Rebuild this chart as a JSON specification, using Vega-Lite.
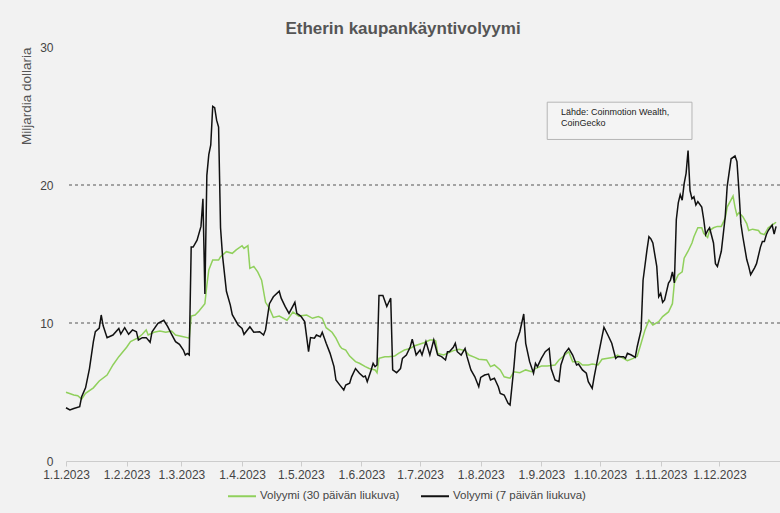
{
  "$schema": "https://vega.github.io/schema/vega-lite/v6.json",
  "autosize": "none",
  "width": 714,
  "height": 414,
  "padding": {"left": 66, "top": 47, "right": 0, "bottom": 52},
  "background": "#f2f2f2",
  "config": {
    "font": "Liberation Sans",
    "view": {"stroke": null},
    "axis": {"labelColor": "#444", "titleColor": "#555", "labelFontSize": 12}
  },
  "title": {
    "text": "Etherin kaupankäyntivolyymi",
    "fontSize": 17,
    "fontWeight": "bold",
    "color": "#555",
    "anchor": "middle",
    "dx": -20,
    "offset": 3
  },
  "datasets": {
    "k": [
      {"d":"2023-01-01","v":3.86},{"d":"2023-01-03","v":3.7},{"d":"2023-01-05","v":3.8},{"d":"2023-01-08","v":3.93},{"d":"2023-01-09","v":4.66},{"d":"2023-01-11","v":5.3},{"d":"2023-01-13","v":6.7},{"d":"2023-01-15","v":8.65},{"d":"2023-01-16","v":9.37},{"d":"2023-01-18","v":9.63},{"d":"2023-01-19","v":10.58},{"d":"2023-01-20","v":9.8},{"d":"2023-01-22","v":8.94},{"d":"2023-01-25","v":9.13},{"d":"2023-01-28","v":9.6},{"d":"2023-01-29","v":9.2},{"d":"2023-01-31","v":9.66},
      {"d":"2023-02-02","v":9.18},{"d":"2023-02-04","v":9.5},{"d":"2023-02-06","v":9.37},{"d":"2023-02-07","v":8.77},{"d":"2023-02-09","v":8.94},{"d":"2023-02-11","v":8.94},{"d":"2023-02-13","v":8.6},{"d":"2023-02-14","v":9.37},{"d":"2023-02-17","v":9.97},{"d":"2023-02-20","v":10.2},{"d":"2023-02-22","v":9.73},{"d":"2023-02-24","v":9.18},{"d":"2023-02-26","v":8.65},{"d":"2023-02-28","v":8.45},
      {"d":"2023-03-02","v":8.04},{"d":"2023-03-03","v":7.68},{"d":"2023-03-04","v":7.8},{"d":"2023-03-05","v":7.68},{"d":"2023-03-06","v":15.5},{"d":"2023-03-07","v":15.5},{"d":"2023-03-09","v":16.0},{"d":"2023-03-11","v":17.0},{"d":"2023-03-12","v":19.0},{"d":"2023-03-13","v":12.1},{"d":"2023-03-14","v":20.7},{"d":"2023-03-15","v":22.2},{"d":"2023-03-16","v":22.9},{"d":"2023-03-17","v":25.7},{"d":"2023-03-18","v":25.6},{"d":"2023-03-19","v":24.7},{"d":"2023-03-20","v":24.2},{"d":"2023-03-21","v":16.9},{"d":"2023-03-22","v":14.9},{"d":"2023-03-24","v":12.3},{"d":"2023-03-26","v":11.3},{"d":"2023-03-27","v":10.6},{"d":"2023-03-30","v":9.86},
      {"d":"2023-04-01","v":9.6},{"d":"2023-04-02","v":9.18},{"d":"2023-04-05","v":9.73},{"d":"2023-04-07","v":9.33},{"d":"2023-04-10","v":9.37},{"d":"2023-04-12","v":9.13},{"d":"2023-04-13","v":9.5},{"d":"2023-04-15","v":11.4},{"d":"2023-04-17","v":11.9},{"d":"2023-04-20","v":12.3},{"d":"2023-04-21","v":11.8},{"d":"2023-04-23","v":11.2},{"d":"2023-04-25","v":10.7},{"d":"2023-04-28","v":11.5},{"d":"2023-04-29","v":10.7},
      {"d":"2023-05-01","v":10.5},{"d":"2023-05-03","v":10.1},{"d":"2023-05-05","v":7.92},{"d":"2023-05-06","v":8.94},{"d":"2023-05-08","v":8.9},{"d":"2023-05-09","v":9.13},{"d":"2023-05-11","v":9.0},{"d":"2023-05-12","v":9.33},{"d":"2023-05-14","v":8.53},{"d":"2023-05-16","v":7.8},{"d":"2023-05-18","v":6.84},{"d":"2023-05-19","v":5.87},{"d":"2023-05-21","v":5.5},{"d":"2023-05-23","v":5.14},{"d":"2023-05-24","v":5.5},{"d":"2023-05-26","v":5.63},{"d":"2023-05-27","v":6.1},{"d":"2023-05-29","v":6.7},{"d":"2023-05-31","v":6.36},
      {"d":"2023-06-02","v":6.1},{"d":"2023-06-03","v":6.16},{"d":"2023-06-04","v":5.75},{"d":"2023-06-06","v":6.6},{"d":"2023-06-07","v":7.08},{"d":"2023-06-08","v":6.84},{"d":"2023-06-09","v":6.96},{"d":"2023-06-10","v":12.0},{"d":"2023-06-12","v":12.0},{"d":"2023-06-14","v":11.2},{"d":"2023-06-15","v":11.5},{"d":"2023-06-16","v":11.8},{"d":"2023-06-17","v":6.6},{"d":"2023-06-19","v":6.4},{"d":"2023-06-21","v":6.7},{"d":"2023-06-22","v":7.44},{"d":"2023-06-24","v":7.68},{"d":"2023-06-26","v":8.28},{"d":"2023-06-27","v":8.82},{"d":"2023-06-29","v":7.68},
      {"d":"2023-07-01","v":8.04},{"d":"2023-07-02","v":7.68},{"d":"2023-07-04","v":8.65},{"d":"2023-07-06","v":7.68},{"d":"2023-07-08","v":8.77},{"d":"2023-07-10","v":7.68},{"d":"2023-07-12","v":7.56},{"d":"2023-07-14","v":7.32},{"d":"2023-07-15","v":7.92},{"d":"2023-07-16","v":7.92},{"d":"2023-07-18","v":8.24},{"d":"2023-07-19","v":8.53},{"d":"2023-07-20","v":7.92},{"d":"2023-07-22","v":7.68},{"d":"2023-07-24","v":8.16},{"d":"2023-07-25","v":7.56},{"d":"2023-07-27","v":6.6},{"d":"2023-07-29","v":6.1},{"d":"2023-07-31","v":5.38},
      {"d":"2023-08-01","v":6.06},{"d":"2023-08-03","v":6.23},{"d":"2023-08-05","v":6.3},{"d":"2023-08-06","v":5.87},{"d":"2023-08-08","v":6.0},{"d":"2023-08-10","v":5.38},{"d":"2023-08-11","v":4.9},{"d":"2023-08-13","v":4.78},{"d":"2023-08-15","v":4.18},{"d":"2023-08-16","v":4.06},{"d":"2023-08-18","v":6.84},{"d":"2023-08-19","v":8.53},{"d":"2023-08-21","v":9.37},{"d":"2023-08-23","v":10.65},{"d":"2023-08-24","v":8.53},{"d":"2023-08-26","v":7.2},{"d":"2023-08-28","v":6.36},{"d":"2023-08-29","v":7.08},{"d":"2023-08-30","v":6.84},
      {"d":"2023-09-01","v":7.44},{"d":"2023-09-03","v":7.92},{"d":"2023-09-05","v":8.16},{"d":"2023-09-06","v":6.7},{"d":"2023-09-08","v":5.87},{"d":"2023-09-10","v":5.75},{"d":"2023-09-11","v":6.96},{"d":"2023-09-13","v":7.8},{"d":"2023-09-15","v":8.16},{"d":"2023-09-17","v":7.68},{"d":"2023-09-19","v":6.96},{"d":"2023-09-20","v":7.03},{"d":"2023-09-22","v":6.6},{"d":"2023-09-24","v":6.36},{"d":"2023-09-25","v":5.75},{"d":"2023-09-27","v":5.27},{"d":"2023-09-28","v":6.1},{"d":"2023-09-30","v":7.56},
      {"d":"2023-10-02","v":9.0},{"d":"2023-10-03","v":9.69},{"d":"2023-10-05","v":9.13},{"d":"2023-10-07","v":8.53},{"d":"2023-10-09","v":7.44},{"d":"2023-10-10","v":7.56},{"d":"2023-10-13","v":7.56},{"d":"2023-10-14","v":7.44},{"d":"2023-10-15","v":7.8},{"d":"2023-10-17","v":7.68},{"d":"2023-10-19","v":7.51},{"d":"2023-10-20","v":8.28},{"d":"2023-10-22","v":9.5},{"d":"2023-10-23","v":13.1},{"d":"2023-10-25","v":15.3},{"d":"2023-10-26","v":16.25},{"d":"2023-10-27","v":16.1},{"d":"2023-10-28","v":15.8},{"d":"2023-10-30","v":14.1},{"d":"2023-10-31","v":11.9},
      {"d":"2023-11-01","v":12.15},{"d":"2023-11-02","v":11.5},{"d":"2023-11-03","v":11.67},{"d":"2023-11-05","v":12.9},{"d":"2023-11-06","v":13.1},{"d":"2023-11-07","v":13.7},{"d":"2023-11-08","v":12.9},{"d":"2023-11-09","v":17.5},{"d":"2023-11-10","v":18.7},{"d":"2023-11-11","v":19.3},{"d":"2023-11-12","v":18.9},{"d":"2023-11-13","v":20.1},{"d":"2023-11-14","v":20.85},{"d":"2023-11-15","v":22.5},{"d":"2023-11-16","v":19.6},{"d":"2023-11-17","v":19.0},{"d":"2023-11-18","v":19.15},{"d":"2023-11-19","v":18.55},{"d":"2023-11-20","v":18.8},{"d":"2023-11-22","v":18.4},{"d":"2023-11-23","v":17.5},{"d":"2023-11-24","v":16.4},{"d":"2023-11-25","v":16.7},{"d":"2023-11-26","v":16.9},{"d":"2023-11-28","v":15.8},{"d":"2023-11-29","v":14.3},{"d":"2023-11-30","v":14.1},
      {"d":"2023-12-02","v":15.2},{"d":"2023-12-04","v":17.7},{"d":"2023-12-05","v":19.9},{"d":"2023-12-07","v":21.9},{"d":"2023-12-09","v":22.1},{"d":"2023-12-10","v":21.7},{"d":"2023-12-11","v":19.6},{"d":"2023-12-12","v":17.2},{"d":"2023-12-13","v":16.25},{"d":"2023-12-15","v":14.6},{"d":"2023-12-16","v":14.1},{"d":"2023-12-17","v":13.5},{"d":"2023-12-19","v":14.0},{"d":"2023-12-20","v":14.3},{"d":"2023-12-22","v":15.5},{"d":"2023-12-23","v":15.9},{"d":"2023-12-24","v":15.9},{"d":"2023-12-25","v":16.4},{"d":"2023-12-26","v":16.7},{"d":"2023-12-28","v":17.1},{"d":"2023-12-29","v":16.45},{"d":"2023-12-30","v":17.0}
    ],
    "g": [
      {"d":"2023-01-01","v":4.98},{"d":"2023-01-05","v":4.78},{"d":"2023-01-07","v":4.73},{"d":"2023-01-09","v":4.49},{"d":"2023-01-11","v":4.9},{"d":"2023-01-15","v":5.3},{"d":"2023-01-18","v":5.8},{"d":"2023-01-22","v":6.23},{"d":"2023-01-25","v":6.96},{"d":"2023-01-28","v":7.56},
      {"d":"2023-02-01","v":8.24},{"d":"2023-02-03","v":8.65},{"d":"2023-02-07","v":8.94},{"d":"2023-02-09","v":9.18},{"d":"2023-02-11","v":9.5},{"d":"2023-02-12","v":9.13},{"d":"2023-02-15","v":9.33},{"d":"2023-02-18","v":9.42},{"d":"2023-02-21","v":9.33},{"d":"2023-02-24","v":9.42},{"d":"2023-02-26","v":9.13},
      {"d":"2023-03-02","v":9.0},{"d":"2023-03-04","v":8.94},{"d":"2023-03-05","v":8.9},{"d":"2023-03-06","v":10.5},{"d":"2023-03-08","v":10.58},{"d":"2023-03-10","v":10.87},{"d":"2023-03-13","v":11.4},{"d":"2023-03-14","v":12.75},{"d":"2023-03-15","v":13.84},{"d":"2023-03-17","v":14.56},{"d":"2023-03-20","v":14.56},{"d":"2023-03-21","v":14.8},{"d":"2023-03-24","v":15.17},{"d":"2023-03-27","v":15.05},{"d":"2023-03-29","v":15.3},
      {"d":"2023-04-01","v":15.6},{"d":"2023-04-02","v":15.4},{"d":"2023-04-04","v":15.6},{"d":"2023-04-05","v":13.96},{"d":"2023-04-07","v":14.1},{"d":"2023-04-09","v":13.7},{"d":"2023-04-11","v":13.1},{"d":"2023-04-13","v":11.5},{"d":"2023-04-15","v":11.06},{"d":"2023-04-17","v":10.4},{"d":"2023-04-20","v":10.5},{"d":"2023-04-24","v":10.2},{"d":"2023-04-27","v":10.8},{"d":"2023-04-30","v":10.5},
      {"d":"2023-05-04","v":10.58},{"d":"2023-05-07","v":10.34},{"d":"2023-05-10","v":10.46},{"d":"2023-05-12","v":10.34},{"d":"2023-05-14","v":9.66},{"d":"2023-05-17","v":9.33},{"d":"2023-05-19","v":8.9},{"d":"2023-05-21","v":8.33},{"d":"2023-05-22","v":8.16},{"d":"2023-05-24","v":8.04},{"d":"2023-05-26","v":7.6},{"d":"2023-05-29","v":7.2},{"d":"2023-05-31","v":7.08},
      {"d":"2023-06-03","v":6.84},{"d":"2023-06-05","v":6.7},{"d":"2023-06-08","v":6.6},{"d":"2023-06-09","v":6.4},{"d":"2023-06-10","v":7.44},{"d":"2023-06-13","v":7.56},{"d":"2023-06-15","v":7.56},{"d":"2023-06-18","v":7.6},{"d":"2023-06-20","v":7.8},{"d":"2023-06-23","v":8.04},{"d":"2023-06-26","v":8.16},{"d":"2023-06-28","v":8.33},
      {"d":"2023-07-01","v":8.48},{"d":"2023-07-03","v":8.57},{"d":"2023-07-06","v":8.77},{"d":"2023-07-08","v":8.77},{"d":"2023-07-09","v":8.7},{"d":"2023-07-10","v":7.8},{"d":"2023-07-13","v":7.68},{"d":"2023-07-15","v":7.8},{"d":"2023-07-18","v":8.0},{"d":"2023-07-21","v":8.1},{"d":"2023-07-24","v":8.0},{"d":"2023-07-26","v":7.68},{"d":"2023-07-29","v":7.51},{"d":"2023-07-31","v":7.37},
      {"d":"2023-08-04","v":7.32},{"d":"2023-08-06","v":6.84},{"d":"2023-08-08","v":6.96},{"d":"2023-08-11","v":6.6},{"d":"2023-08-13","v":6.1},{"d":"2023-08-16","v":6.0},{"d":"2023-08-18","v":6.47},{"d":"2023-08-21","v":6.4},{"d":"2023-08-24","v":6.6},{"d":"2023-08-27","v":6.47},{"d":"2023-08-29","v":6.7},
      {"d":"2023-09-01","v":6.88},{"d":"2023-09-04","v":6.88},{"d":"2023-09-08","v":6.96},{"d":"2023-09-10","v":7.32},{"d":"2023-09-13","v":7.68},{"d":"2023-09-15","v":7.92},{"d":"2023-09-17","v":7.2},{"d":"2023-09-20","v":7.2},{"d":"2023-09-22","v":6.96},{"d":"2023-09-25","v":6.96},{"d":"2023-09-27","v":7.03},{"d":"2023-09-30","v":6.96},
      {"d":"2023-10-02","v":7.37},{"d":"2023-10-05","v":7.44},{"d":"2023-10-08","v":7.51},{"d":"2023-10-10","v":7.68},{"d":"2023-10-13","v":7.44},{"d":"2023-10-15","v":7.27},{"d":"2023-10-18","v":7.44},{"d":"2023-10-20","v":7.6},{"d":"2023-10-22","v":8.53},{"d":"2023-10-24","v":9.5},{"d":"2023-10-26","v":10.2},{"d":"2023-10-28","v":9.86},{"d":"2023-10-31","v":10.1},
      {"d":"2023-11-02","v":10.46},{"d":"2023-11-05","v":10.8},{"d":"2023-11-07","v":11.4},{"d":"2023-11-08","v":12.9},{"d":"2023-11-10","v":13.5},{"d":"2023-11-12","v":13.7},{"d":"2023-11-13","v":14.7},{"d":"2023-11-15","v":15.2},{"d":"2023-11-17","v":15.8},{"d":"2023-11-18","v":16.25},{"d":"2023-11-20","v":16.9},{"d":"2023-11-22","v":16.9},{"d":"2023-11-23","v":16.5},{"d":"2023-11-25","v":16.2},{"d":"2023-11-26","v":16.7},{"d":"2023-11-28","v":16.9},{"d":"2023-11-30","v":17.0},
      {"d":"2023-12-02","v":17.0},{"d":"2023-12-04","v":17.6},{"d":"2023-12-05","v":18.4},{"d":"2023-12-08","v":19.2},{"d":"2023-12-09","v":18.4},{"d":"2023-12-10","v":17.8},{"d":"2023-12-11","v":18.0},{"d":"2023-12-13","v":17.7},{"d":"2023-12-15","v":17.2},{"d":"2023-12-16","v":16.7},{"d":"2023-12-18","v":16.8},{"d":"2023-12-21","v":16.7},{"d":"2023-12-22","v":16.5},{"d":"2023-12-24","v":16.4},{"d":"2023-12-26","v":16.9},{"d":"2023-12-29","v":17.2},{"d":"2023-12-30","v":17.3}
    ]
  },
  "layer": [
    {
      "data": {"values": [{"y": 10}, {"y": 20}]},
      "mark": {"type": "rule", "color": "#555", "strokeWidth": 1, "strokeDash": [3, 3]},
      "encoding": {"y": {"field": "y", "type": "quantitative"}}
    },
    {
      "data": {"name": "g"},
      "mark": {"type": "line", "strokeWidth": 1.5},
      "encoding": {
        "x": {
          "field": "d", "type": "temporal",
          "scale": {"domain": [{"year": 2023, "month": 1, "date": 1}, {"year": 2024, "month": 1, "date": 1}]},
          "axis": {
            "title": null, "grid": false, "format": "%-d.%-m.%Y",
            "values": [
              {"year": 2023, "month": 1, "date": 1}, {"year": 2023, "month": 2, "date": 1}, {"year": 2023, "month": 3, "date": 1},
              {"year": 2023, "month": 4, "date": 1}, {"year": 2023, "month": 5, "date": 1}, {"year": 2023, "month": 6, "date": 1},
              {"year": 2023, "month": 7, "date": 1}, {"year": 2023, "month": 8, "date": 1}, {"year": 2023, "month": 9, "date": 1},
              {"year": 2023, "month": 10, "date": 1}, {"year": 2023, "month": 11, "date": 1}, {"year": 2023, "month": 12, "date": 1}
            ],
            "domainColor": "#cccccc", "tickColor": "#cccccc", "tickSize": 5, "labelPadding": 3,
            "labelFontSize": 12, "labelColor": "#444", "labelOverlap": false, "labelFlush": false
          }
        },
        "y": {
          "field": "v", "type": "quantitative",
          "scale": {"domain": [0, 30], "nice": false},
          "axis": {
            "title": "Miljardia dollaria", "titleAnchor": "end", "titleFontSize": 13.5, "titleFontWeight": "normal",
            "titleColor": "#555", "titlePadding": 6,
            "values": [0, 10, 20, 30], "grid": false, "domain": false, "ticks": false,
            "labelPadding": 13, "labelFontSize": 12, "labelColor": "#444"
          }
        },
        "color": {
          "datum": "Volyymi (30 päivän liukuva)", "type": "nominal",
          "scale": {"domain": ["Volyymi (30 päivän liukuva)", "Volyymi (7 päivän liukuva)"], "range": ["#90d05c", "#111111"]},
          "legend": {
            "title": null, "orient": "none", "legendX": 161, "legendY": 434, "direction": "horizontal",
            "symbolType": "stroke", "symbolSize": 784, "symbolStrokeWidth": 2, "labelFontSize": 11.5,
            "labelColor": "#444", "labelOffset": 3, "columnPadding": 17, "padding": 0
          }
        }
      }
    },
    {
      "data": {"name": "k"},
      "mark": {"type": "line", "strokeWidth": 1.5},
      "encoding": {
        "x": {"field": "d", "type": "temporal"},
        "y": {"field": "v", "type": "quantitative"},
        "color": {"datum": "Volyymi (7 päivän liukuva)", "type": "nominal"}
      }
    },
    {
      "data": {"values": [{"d": "2023-09-04", "d2": "2023-11-17", "y": 26.0, "y2": 23.3}]},
      "mark": {"type": "rect", "fill": "#f4f4f4", "stroke": "#b5b5b5", "strokeWidth": 1},
      "encoding": {
        "x": {"field": "d", "type": "temporal"},
        "x2": {"field": "d2"},
        "y": {"field": "y", "type": "quantitative"},
        "y2": {"field": "y2"}
      }
    },
    {
      "data": {"values": [{"d": "2023-09-11", "y": 25.29, "t": "Lähde: Coinmotion Wealth,"}, {"d": "2023-09-11", "y": 24.46, "t": "CoinGecko"}]},
      "mark": {"type": "text", "align": "left", "baseline": "middle", "fontSize": 9, "color": "#222"},
      "encoding": {
        "x": {"field": "d", "type": "temporal"},
        "y": {"field": "y", "type": "quantitative"},
        "text": {"field": "t"}
      }
    }
  ]
}
